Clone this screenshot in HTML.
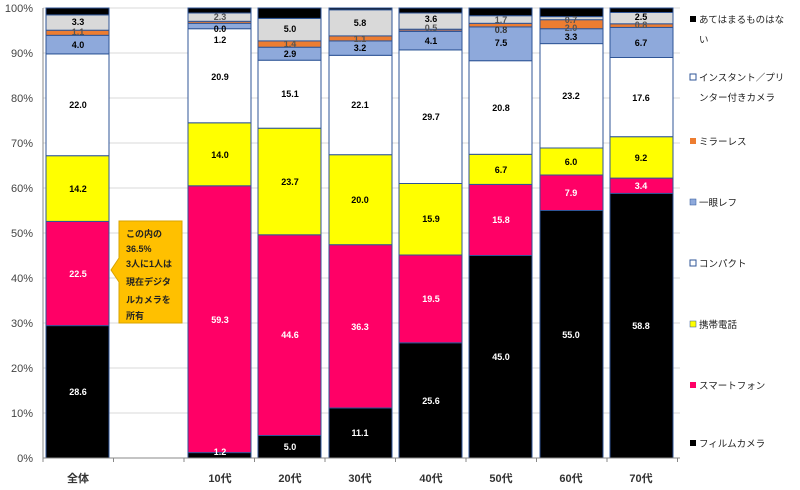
<!DOCTYPE html>
<html><head><meta charset="utf-8"><style>
body{margin:0;background:#fff;}
svg{display:block;font-family:"Liberation Sans","Noto Sans CJK JP",sans-serif;}
.v{font-size:9px;font-weight:bold;text-anchor:middle;}
.w{fill:#fff;}
.ax{font-size:11px;fill:#444;text-anchor:end;}
.cat{font-size:11px;fill:#333;text-anchor:middle;font-weight:bold;}
.lg{font-size:9.5px;fill:#222;}
</style></head><body>
<svg width="800" height="490" viewBox="0 0 800 490" xmlns="http://www.w3.org/2000/svg">
<g stroke="#d9d9d9" stroke-width="1">
<line x1="43" y1="8" x2="680" y2="8"/><line x1="43" y1="53" x2="680" y2="53"/><line x1="43" y1="98" x2="680" y2="98"/><line x1="43" y1="143" x2="680" y2="143"/><line x1="43" y1="188" x2="680" y2="188"/><line x1="43" y1="233" x2="680" y2="233"/><line x1="43" y1="278" x2="680" y2="278"/><line x1="43" y1="323" x2="680" y2="323"/><line x1="43" y1="368" x2="680" y2="368"/><line x1="43" y1="413" x2="680" y2="413"/>
</g>
<g class="ax">
<text x="33" y="12">100%</text><text x="33" y="57">90%</text><text x="33" y="102">80%</text><text x="33" y="147">70%</text><text x="33" y="192">60%</text><text x="33" y="237">50%</text><text x="33" y="282">40%</text><text x="33" y="327">30%</text><text x="33" y="372">20%</text><text x="33" y="417">10%</text><text x="33" y="462">0%</text>
</g>
<g stroke="#2f5597" stroke-width="1">
<!-- 全体 -->
<rect x="46" y="325.6" width="63" height="132.4" fill="#000"/>
<rect x="46" y="221.4" width="63" height="104.2" fill="#ff0066"/>
<rect x="46" y="155.7" width="63" height="65.7" fill="#ffff00"/>
<rect x="46" y="53.9" width="63" height="101.8" fill="#fff"/>
<rect x="46" y="35.3" width="63" height="18.6" fill="#8ea9db"/>
<rect x="46" y="30.2" width="63" height="5.1" fill="#ed7d31"/>
<rect x="46" y="14.9" width="63" height="15.3" fill="#d9d9d9"/>
<rect x="46" y="8" width="63" height="6.9" fill="#000"/>
<!-- 10代 -->
<rect x="188" y="452.6" width="63" height="5.4" fill="#000"/>
<rect x="188" y="185.8" width="63" height="266.8" fill="#ff0066"/>
<rect x="188" y="122.8" width="63" height="63" fill="#ffff00"/>
<rect x="188" y="28.7" width="63" height="94.1" fill="#fff"/>
<rect x="188" y="23.3" width="63" height="5.4" fill="#8ea9db"/>
<rect x="188" y="21.3" width="63" height="2" fill="#ed7d31"/>
<rect x="188" y="13" width="63" height="8.3" fill="#d9d9d9"/>
<rect x="188" y="8" width="63" height="5" fill="#000"/>
<!-- 20代 -->
<rect x="258" y="435.5" width="63" height="22.5" fill="#000"/>
<rect x="258" y="234.8" width="63" height="200.7" fill="#ff0066"/>
<rect x="258" y="128.2" width="63" height="106.6" fill="#ffff00"/>
<rect x="258" y="60.2" width="63" height="68" fill="#fff"/>
<rect x="258" y="47.2" width="63" height="13" fill="#8ea9db"/>
<rect x="258" y="40.9" width="63" height="6.3" fill="#ed7d31"/>
<rect x="258" y="18.4" width="63" height="22.5" fill="#d9d9d9"/>
<rect x="258" y="8" width="63" height="10.4" fill="#000"/>
<!-- 30代 -->
<rect x="329" y="408" width="63" height="50" fill="#000"/>
<rect x="329" y="244.7" width="63" height="163.3" fill="#ff0066"/>
<rect x="329" y="154.7" width="63" height="90" fill="#ffff00"/>
<rect x="329" y="55.3" width="63" height="99.4" fill="#fff"/>
<rect x="329" y="40.9" width="63" height="14.4" fill="#8ea9db"/>
<rect x="329" y="35.9" width="63" height="5" fill="#ed7d31"/>
<rect x="329" y="9.8" width="63" height="26.1" fill="#d9d9d9"/>
<rect x="329" y="8" width="63" height="1.8" fill="#000"/>
<!-- 40代 -->
<rect x="399" y="342.8" width="63" height="115.2" fill="#000"/>
<rect x="399" y="255" width="63" height="87.8" fill="#ff0066"/>
<rect x="399" y="183.5" width="63" height="71.5" fill="#ffff00"/>
<rect x="399" y="49.9" width="63" height="133.6" fill="#fff"/>
<rect x="399" y="31.4" width="63" height="18.5" fill="#8ea9db"/>
<rect x="399" y="29.2" width="63" height="2.2" fill="#a0706a"/>
<rect x="399" y="13" width="63" height="16.2" fill="#d9d9d9"/>
<rect x="399" y="8" width="63" height="5" fill="#000"/>
<!-- 50代 -->
<rect x="469" y="255.5" width="63" height="202.5" fill="#000"/>
<rect x="469" y="184.4" width="63" height="71.1" fill="#ff0066"/>
<rect x="469" y="154.3" width="63" height="30.1" fill="#ffff00"/>
<rect x="469" y="60.7" width="63" height="93.6" fill="#fff"/>
<rect x="469" y="26.9" width="63" height="33.8" fill="#8ea9db"/>
<rect x="469" y="23.3" width="63" height="3.6" fill="#ed7d31"/>
<rect x="469" y="15.7" width="63" height="7.6" fill="#d9d9d9"/>
<rect x="469" y="8" width="63" height="7.7" fill="#000"/>
<!-- 60代 -->
<rect x="540" y="210.5" width="63" height="247.5" fill="#000"/>
<rect x="540" y="175" width="63" height="35.5" fill="#ff0066"/>
<rect x="540" y="148" width="63" height="27" fill="#ffff00"/>
<rect x="540" y="43.6" width="63" height="104.4" fill="#fff"/>
<rect x="540" y="28.7" width="63" height="14.9" fill="#8ea9db"/>
<rect x="540" y="19.7" width="63" height="9" fill="#ed7d31"/>
<rect x="540" y="16.6" width="63" height="3.1" fill="#d9d9d9"/>
<rect x="540" y="8" width="63" height="8.6" fill="#000"/>
<!-- 70代 -->
<rect x="610" y="193.4" width="63" height="264.6" fill="#000"/>
<rect x="610" y="178.1" width="63" height="15.3" fill="#ff0066"/>
<rect x="610" y="136.7" width="63" height="41.4" fill="#ffff00"/>
<rect x="610" y="57.5" width="63" height="79.2" fill="#fff"/>
<rect x="610" y="27.4" width="63" height="30.1" fill="#8ea9db"/>
<rect x="610" y="23.8" width="63" height="3.6" fill="#ed7d31"/>
<rect x="610" y="12.5" width="63" height="11.3" fill="#d9d9d9"/>
<rect x="610" y="8" width="63" height="4.5" fill="#000"/>
</g>
<!-- axes -->
<line x1="43" y1="8" x2="43" y2="458" stroke="#888" stroke-width="1"/>
<line x1="43" y1="458" x2="680" y2="458" stroke="#888" stroke-width="1"/>
<g stroke="#888"><line x1="43" y1="458" x2="43" y2="462"/><line x1="113.5" y1="458" x2="113.5" y2="462"/><line x1="184" y1="458" x2="184" y2="462"/><line x1="254.5" y1="458" x2="254.5" y2="462"/><line x1="325" y1="458" x2="325" y2="462"/><line x1="395.5" y1="458" x2="395.5" y2="462"/><line x1="466" y1="458" x2="466" y2="462"/><line x1="536.5" y1="458" x2="536.5" y2="462"/><line x1="607" y1="458" x2="607" y2="462"/><line x1="677.5" y1="458" x2="677.5" y2="462"/></g>
<g class="cat">
<text x="78" y="482">全体</text><text x="220" y="482">10代</text><text x="290" y="482">20代</text><text x="360" y="482">30代</text><text x="431" y="482">40代</text><text x="501" y="482">50代</text><text x="571" y="482">60代</text><text x="641" y="482">70代</text>
</g>
<!-- value labels -->
<g class="v">
<text class="w" x="78" y="395">28.6</text><text class="w" x="78" y="277">22.5</text><text x="78" y="192">14.2</text><text x="78" y="108">22.0</text><text x="78" y="48">4.0</text><text x="78" y="35" fill="#555">1.1</text><text x="78" y="25">3.3</text>
<text class="w" x="220" y="455">1.2</text><text class="w" x="220" y="323">59.3</text><text x="220" y="158">14.0</text><text x="220" y="80">20.9</text><text x="220" y="43">1.2</text><text x="220" y="32">0.0</text><text x="220" y="20" fill="#555">2.3</text>
<text class="w" x="290" y="450">5.0</text><text class="w" x="290" y="338">44.6</text><text x="290" y="185">23.7</text><text x="290" y="97">15.1</text><text x="290" y="57">2.9</text><text x="290" y="47" fill="#555">1.4</text><text x="290" y="32">5.0</text>
<text class="w" x="360" y="436">11.1</text><text class="w" x="360" y="330">36.3</text><text x="360" y="203">20.0</text><text x="360" y="108">22.1</text><text x="360" y="51">3.2</text><text x="360" y="42" fill="#555">1.1</text><text x="360" y="26">5.8</text>
<text class="w" x="431" y="404">25.6</text><text class="w" x="431" y="302">19.5</text><text x="431" y="222">15.9</text><text x="431" y="120">29.7</text><text x="431" y="44">4.1</text><text x="431" y="31" fill="#555">0.5</text><text x="431" y="22">3.6</text>
<text class="w" x="501" y="360">45.0</text><text class="w" x="501" y="223">15.8</text><text x="501" y="173">6.7</text><text x="501" y="111">20.8</text><text x="501" y="46">7.5</text><text x="501" y="33" fill="#333">0.8</text><text x="501" y="23" fill="#555">1.7</text>
<text class="w" x="571" y="338">55.0</text><text class="w" x="571" y="196">7.9</text><text x="571" y="165">6.0</text><text x="571" y="99">23.2</text><text x="571" y="40">3.3</text><text x="571" y="31" fill="#555">2.0</text><text x="571" y="23" fill="#555">0.7</text>
<text class="w" x="641" y="329">58.8</text><text class="w" x="641" y="189">3.4</text><text x="641" y="161">9.2</text><text x="641" y="101">17.6</text><text x="641" y="46">6.7</text><text x="641" y="28" fill="#555">0.8</text><text x="641" y="20">2.5</text>
</g>
<!-- callout -->
<path d="M119,221 L182,221 L182,323 L119,323 L119,282 L111,270 L119,258 Z" fill="#ffc000" stroke="#d9a300" stroke-width="1"/>
<g font-size="9" font-weight="bold" fill="#222">
<text x="126" y="237">この内の</text><text x="126" y="252">36.5%</text><text x="126" y="267">3人に1人は</text><text x="126" y="285">現在デジタ</text><text x="126" y="303">ルカメラを</text><text x="126" y="319">所有</text>
</g>
<!-- legend -->
<g class="lg">
<rect x="690" y="16" width="6" height="6" fill="#000"/><text x="699" y="23">あてはまるものはな</text><text x="699" y="43">い</text>
<rect x="690" y="74" width="6" height="6" fill="#fff" stroke="#2f5597"/><text x="699" y="81">インスタント／プリ</text><text x="699" y="101">ンター付きカメラ</text>
<rect x="690" y="138" width="6" height="6" fill="#ed7d31"/><text x="699" y="145">ミラーレス</text>
<rect x="690" y="199" width="6" height="6" fill="#8ea9db" stroke="#2f5597" stroke-width="0.5"/><text x="699" y="206">一眼レフ</text>
<rect x="690" y="260" width="6" height="6" fill="#fff" stroke="#2f5597"/><text x="699" y="267">コンパクト</text>
<rect x="690" y="321" width="6" height="6" fill="#ffff00" stroke="#2f5597" stroke-width="0.5"/><text x="699" y="328">携帯電話</text>
<rect x="690" y="382" width="6" height="6" fill="#ff0066"/><text x="699" y="389">スマートフォン</text>
<rect x="690" y="440" width="6" height="6" fill="#000"/><text x="699" y="447">フィルムカメラ</text>
</g>
</svg>
</body></html>
